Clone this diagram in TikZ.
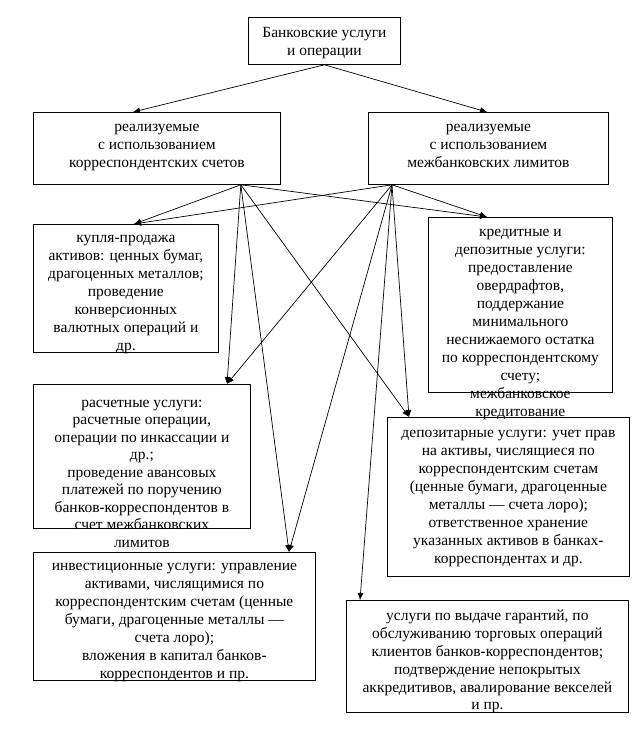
\documentclass[tikz,border=0pt]{standalone}
\usepackage{fontspec}
\setmainfont{Liberation Serif}
\usetikzlibrary{arrows.meta,positioning}

\begin{document}
\begin{tikzpicture}[x=1pt,y=-1pt,
    box/.style={draw,line width=0.8pt,anchor=north west,inner sep=0pt},
    txt/.style={anchor=north,inner sep=0pt,align=center,font=\fontsize{15.5}{18}\selectfont},
    arr/.style={-{Latex[length=7pt,width=6pt]},line width=0.7pt}
  ]
    \useasboundingbox[fill=white] (0,0) rectangle (641,729);

    \node[box,minimum width=152pt,minimum height=47pt] (top) at (248,17) {};
    \node[txt] (top-t) at ([yshift=-10.5pt]top.north) {Банковские услуги\\и операции};

    \node[box,minimum width=247pt,minimum height=72pt] (korr) at (33,112) {};
    \node[txt] (korr-t) at ([yshift=-11.5pt]korr.north) {реализуемые\\с использованием\\корреспондентских счетов};
    \node[box,minimum width=240pt,minimum height=72pt] (mezh) at (368,112) {};
    \node[txt] (mezh-t) at ([yshift=-11.5pt]mezh.north) {реализуемые\\с использованием\\межбанковских лимитов};

    \node[box,minimum width=185pt,minimum height=128pt] (kuplya) at (33,224) {};
    \node[txt] (kuplya-t) at ([yshift=-10.5pt]kuplya.north) {купля-продажа\\активов: ценных бумаг,\\драгоценных металлов;\\проведение\\конверсионных\\валютных операций и\\др.};

    \node[box,minimum width=184pt,minimum height=175pt] (kredit) at (428,217) {};
    \node[txt] (kredit-t) at ([yshift=-11.5pt]kredit.north) {кредитные и\\депозитные услуги:\\предоставление\\овердрафтов,\\поддержание\\минимального\\неснижаемого остатка\\по корреспондентскому\\счету;\\межбанковское\\кредитование};

    \node[box,minimum width=217pt,minimum height=144pt] (raschet) at (33,384) {};
    \node[txt,font=\fontsize{15.5}{17.5}\selectfont] (raschet-t) at ([yshift=-15.5pt]raschet.north) {расчетные услуги:\\расчетные операции,\\операции по инкассации и\\др.;\\проведение авансовых\\платежей по поручению\\банков-корреспондентов в\\счет межбанковских\\лимитов};

    \node[box,minimum width=242pt,minimum height=159pt] (depozit) at (387,417) {};
    \node[txt] (depozit-t) at ([yshift=-12.5pt]depozit.north) {депозитарные услуги: учет прав\\на активы, числящиеся по\\корреспондентским счетам\\(ценные бумаги, драгоценные\\металлы — счета лоро);\\ответственное хранение\\указанных активов в банках-\\корреспондентах и др.};

    \node[box,minimum width=282pt,minimum height=128pt] (invest) at (33,552) {};
    \node[txt] (invest-t) at ([yshift=-10.5pt]invest.north) {инвестиционные услуги: управление\\активами, числящимися по\\корреспондентским счетам (ценные\\бумаги, драгоценные металлы —\\счета лоро);\\вложения в капитал банков-\\корреспондентов и пр.};

    \node[box,minimum width=282pt,minimum height=112pt] (garant) at (346,600) {};
    \node[txt,font=\fontsize{15.5}{17.8}\selectfont] (garant-t) at ([yshift=-10pt]garant.north) {услуги по выдаче гарантий, по\\обслуживанию торговых операций\\клиентов банков-корреспондентов;\\подтверждение непокрытых\\аккредитивов, авалирование векселей\\и пр.};

    \draw[arr] (top.south) -- ([xshift=100pt]korr.north west);
    \draw[arr] (top.south) -- ([xshift=119pt]mezh.north west);

    \coordinate (korr-out) at ([xshift=-40pt]korr.south east);
    \coordinate (mezh-out) at ([xshift=24pt]mezh.south west);

    \draw[arr] (korr-out) -- ([xshift=101pt]kuplya.north west);
    \draw[arr] (korr-out) -- ([xshift=59pt]kredit.north west);
    \draw[arr] (korr-out) -- ([xshift=194pt]raschet.north west);
    \draw[arr] (korr-out) -- ([xshift=256pt]invest.north west);
    \draw[arr] (korr-out) -- ([xshift=22pt]depozit.north west);

    \draw[arr] (mezh-out) -- ([xshift=101pt]kuplya.north west);
    \draw[arr] (mezh-out) -- ([xshift=59pt]kredit.north west);
    \draw[arr] (mezh-out) -- ([xshift=194pt]raschet.north west);
    \draw[arr] (mezh-out) -- ([xshift=256pt]invest.north west);
    \draw[arr] (mezh-out) -- ([xshift=22pt]depozit.north west);
    \draw[arr] (mezh-out) -- ([xshift=14pt]garant.north west);
  \end{tikzpicture}
\end{document}
